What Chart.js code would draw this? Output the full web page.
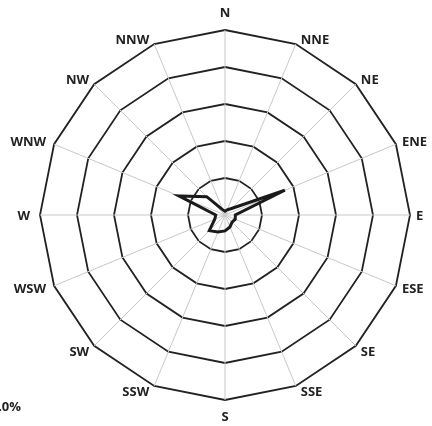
<!DOCTYPE html>
<html>
<head>
<meta charset="utf-8">
<script src="https://cdn.jsdelivr.net/npm/chart.js@4"></script>
<style>
html,body{margin:0;padding:0;background:#fff;}
#wrap{position:relative;width:432px;height:426px;overflow:hidden;}
#note{position:absolute;right:411px;top:397px;font:bold 13px "Open Sans",Arial,sans-serif;color:#222;white-space:nowrap;}
</style>
</head>
<body>
<div id="wrap">
<canvas id="c" width="432" height="426"></canvas>
<div id="note">10.0%</div>
</div>
<script>
const directions = ["N","NNE","NE","ENE","E","ESE","SE","SSE","S","SSW","SW","WSW","W","WNW","NW","NNW"];
const frequency = [0.1,0.15,0.25,1.75,0.28,0.3,0.27,0.35,0.43,0.5,0.6,0.3,0.25,1.35,0.7,0.15];
const ringTicks = [0,1,2,3,4,5];

const labelFont = 'bold 13px "Open Sans", Arial, sans-serif';

const directionLabels = {
  id: 'directionLabels',
  afterDraw(chart) {
    const scale = chart.scales.r;
    const ctx = chart.ctx;
    const n = chart.data.labels.length;
    ctx.save();
    ctx.font = labelFont;
    ctx.fillStyle = '#222';
    ctx.textBaseline = 'alphabetic';
    const cap = 9.3;
    for (let i = 0; i < n; i++) {
      const p = scale.getPointPosition(i, scale.drawingArea);
      const text = chart.data.labels[i];
      let x = p.x, y = p.y, align;
      if (i === 0) { align = 'center'; y = p.y - 13; }
      else if (i === n / 2) { align = 'center'; y = p.y + 12 + cap; }
      else if (i === n / 4) { align = 'left'; x = p.x + 6; y = p.y + cap / 2; }
      else if (i === 3 * n / 4) { align = 'right'; x = p.x - 10; y = p.y + cap / 2; }
      else {
        const right = i < n / 2;
        align = right ? 'left' : 'right';
        const near = (i === 3 || i === 5 || i === 11 || i === 13);
        x = p.x + (right ? (near ? 6 : 5) : (near ? -8 : -5));
        const top = (i < n / 4) || (i > 3 * n / 4);
        if (top) { y = p.y + (near ? 2 : 0); }
        else { y = p.y + cap + (near ? -2 : 1); }
      }
      ctx.textAlign = align;
      ctx.fillText(text, x, y);
    }
    ctx.restore();
  }
};

new Chart(document.getElementById('c'), {
  type: 'radar',
  data: {
    labels: directions,
    datasets: [{
      data: frequency,
      borderColor: '#1a1a1a',
      borderWidth: 3,
      backgroundColor: 'rgba(0,0,0,0)',
      fill: false,
      pointRadius: 0,
      tension: 0
    }]
  },
  options: {
    responsive: false,
    animation: false,
    layout: { padding: { left: 40, right: 22, top: 30, bottom: 26 } },
    plugins: { legend: { display: false }, tooltip: { enabled: false } },
    scales: {
      r: {
        min: ringTicks[0],
        max: ringTicks[ringTicks.length-1],
        ticks: { display: false, stepSize: 1 },
        grid: { color: '#222', lineWidth: 1.8, circular: false },
        angleLines: { color: '#c8c8c8', lineWidth: 1 },
        pointLabels: { display: false }
      }
    }
  },
  plugins: [directionLabels]
});
</script>
</body>
</html>
